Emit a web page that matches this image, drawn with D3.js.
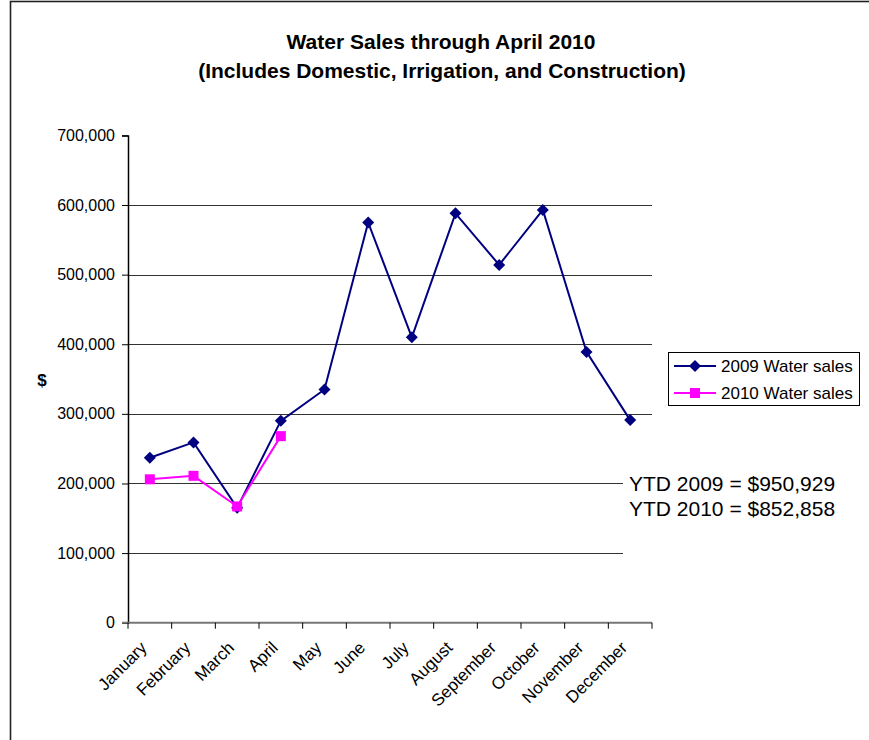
<!DOCTYPE html>
<html>
<head>
<meta charset="utf-8">
<script src="https://cdn.jsdelivr.net/npm/d3@7/dist/d3.min.js"></script>
<style>
  html, body { margin: 0; padding: 0; background: #fff; }
  svg { display: block; font-family: "Liberation Sans", Arial, sans-serif; }
</style>
</head>
<body>
<svg id="chart" width="869" height="740"></svg>
<script>
var months = ['January', 'February', 'March', 'April', 'May', 'June', 'July',
  'August', 'September', 'October', 'November', 'December'];
var sales2009 = [237000, 259000, 165000, 290000, 335000, 575000, 410000,
  588000, 514000, 593000, 389000, 291000];
var sales2010 = [206000, 211000, 167000, 268000];
var yTicks = [0, 100000, 200000, 300000, 400000, 500000, 600000, 700000];
var seriesNames = ['2009 Water sales', '2010 Water sales'];
var ytdLines = ['YTD 2009 = $950,929', 'YTD 2010 = $852,858'];

(function(){
  var svg = d3.select('#chart');
  var plotLeft = 128, plotRight = 652, plotTop = 135.4, plotBottom = 622.7;

  // outer frame
  svg.append('rect').attr('x', 10.5).attr('y', 1.5).attr('width', 870).attr('height', 760)
    .attr('fill', '#fff').attr('stroke', '#222').attr('stroke-width', 1.6);

  var x = d3.scaleBand().domain(months).range([plotLeft, plotRight]).padding(0);
  var y = d3.scaleLinear().domain([0, 700000]).range([plotBottom, plotTop]);
  var cx = function(i){ return x(months[i]) + x.bandwidth() / 2; };

  // gridlines
  svg.append('g').selectAll('line').data(yTicks.filter(function(v){ return v > 0 && v < 700000; }))
    .join('line')
    .attr('x1', plotLeft).attr('x2', plotRight)
    .attr('y1', function(d){ return Math.round(y(d)) + 0.5; })
    .attr('y2', function(d){ return Math.round(y(d)) + 0.5; })
    .attr('stroke', '#333').attr('stroke-width', 1);

  // y axis
  var yAxis = svg.append('g').attr('transform', 'translate(' + plotLeft + ',0)')
    .call(d3.axisLeft(y).tickValues(yTicks).tickSize(6).tickPadding(7)
      .tickFormat(d3.format(',')));
  yAxis.select('.domain').attr('stroke', '#000').attr('stroke-width', 1.5);
  yAxis.selectAll('.tick line').attr('stroke', '#000');
  yAxis.selectAll('text').attr('font-size', 16).attr('fill', '#000')
    .attr('font-family', '"Liberation Sans", Arial, sans-serif');

  // x axis (category boundaries as ticks)
  var xb = d3.scaleLinear().domain([0, 12]).range([plotLeft, plotRight]);
  var xAxisG = svg.append('g').attr('transform', 'translate(0,' + plotBottom + ')');
  xAxisG.append('line').attr('x1', plotLeft - 6).attr('x2', plotRight).attr('y1', 0).attr('y2', 0)
    .attr('stroke', '#777').attr('stroke-width', 2);
  xAxisG.selectAll('line.tk').data(d3.range(13)).join('line').attr('class', 'tk')
    .attr('x1', function(d){ return xb(d); }).attr('x2', function(d){ return xb(d); })
    .attr('y1', 0).attr('y2', 6).attr('stroke', '#000');
  xAxisG.selectAll('text').data(months).join('text')
    .attr('transform', function(d, i){ return 'translate(' + (cx(i) - 2) + ',' + 26 + ') rotate(-45)'; })
    .attr('text-anchor', 'end').attr('font-size', 17).attr('fill', '#000')
    .text(function(d){ return d; });

  // white box behind YTD text
  svg.append('rect').attr('x', 623).attr('y', 440).attr('width', 240).attr('height', 125).attr('fill', '#fff');

  // lines
  var line = d3.line().x(function(d, i){ return cx(i); }).y(function(d){ return y(d); });
  svg.append('path').datum(sales2009).attr('d', line).attr('fill', 'none')
    .attr('stroke', '#000080').attr('stroke-width', 2);
  svg.append('path').datum(sales2010).attr('d', line).attr('fill', 'none')
    .attr('stroke', '#ff00ff').attr('stroke-width', 2);

  svg.append('g').selectAll('path').data(sales2009).join('path')
    .attr('d', 'M0,-6L6,0L0,6L-6,0Z')
    .attr('transform', function(d, i){ return 'translate(' + cx(i) + ',' + y(d) + ')'; })
    .attr('fill', '#000080');
  svg.append('g').selectAll('rect').data(sales2010).join('rect')
    .attr('x', function(d, i){ return cx(i) - 5; }).attr('y', function(d){ return y(d) - 5; })
    .attr('width', 10).attr('height', 10).attr('fill', '#ff00ff');

  // titles
  var title = svg.append('text').attr('text-anchor', 'middle')
    .attr('font-size', 21).attr('font-weight', 'bold').attr('fill', '#000');
  title.append('tspan').attr('x', 441).attr('y', 49).text('Water Sales through April 2010');
  title.append('tspan').attr('x', 442).attr('y', 78).text('(Includes Domestic, Irrigation, and Construction)');

  svg.append('text').attr('x', 42).attr('y', 386).attr('text-anchor', 'middle')
    .attr('font-size', 17).attr('font-weight', 'bold').text('$');

  // legend
  var lg = svg.append('g').attr('transform', 'translate(668,352)');
  lg.append('rect').attr('x', 0.5).attr('y', 0.5).attr('width', 191).attr('height', 53)
    .attr('fill', '#fff').attr('stroke', '#000').attr('stroke-width', 1);
  var colors = ['#000080', '#ff00ff'];
  seriesNames.forEach(function(name, i){
    var ry = 14 + i * 27;
    lg.append('line').attr('x1', 6).attr('x2', 48).attr('y1', ry).attr('y2', ry)
      .attr('stroke', colors[i]).attr('stroke-width', 2);
    if (i === 0) {
      lg.append('path').attr('d', 'M0,-6L6,0L0,6L-6,0Z')
        .attr('transform', 'translate(27,' + ry + ')').attr('fill', colors[i]);
    } else {
      lg.append('rect').attr('x', 22).attr('y', ry - 5).attr('width', 10).attr('height', 10)
        .attr('fill', colors[i]);
    }
    lg.append('text').attr('x', 53).attr('y', ry + 6).attr('font-size', 17).attr('fill', '#000').text(name);
  });

  // YTD notes
  svg.append('g').selectAll('text').data(ytdLines).join('text')
    .attr('x', 629).attr('y', function(d, i){ return 491 + i * 25; })
    .attr('font-size', 21).attr('fill', '#000').text(function(d){ return d; });
})();
</script>
</body>
</html>
